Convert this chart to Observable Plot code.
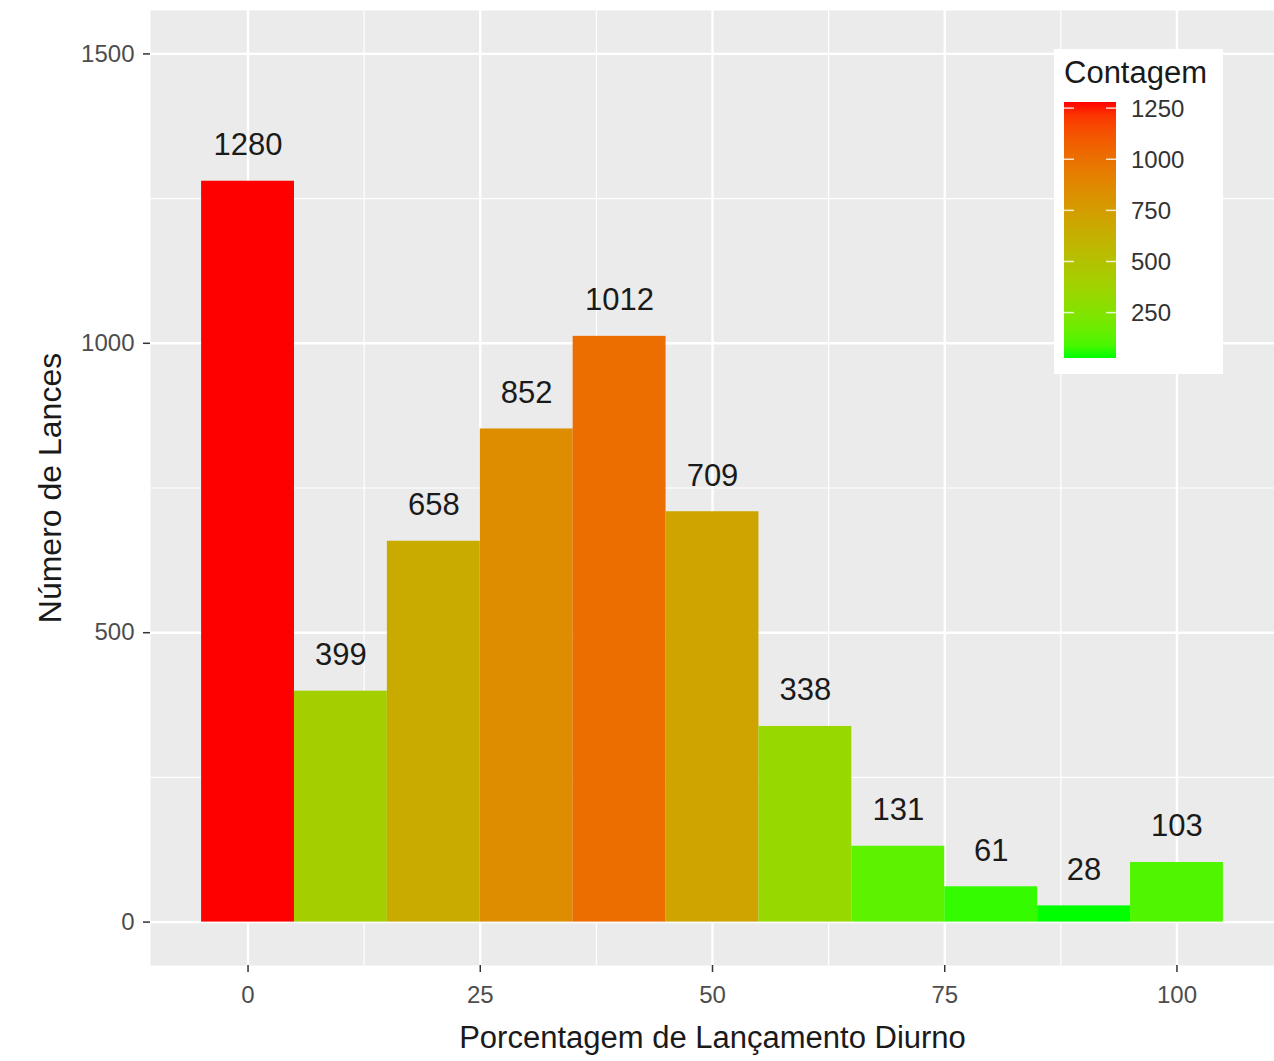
<!DOCTYPE html>
<html>
<head>
<meta charset="utf-8">
<script src="https://cdn.jsdelivr.net/npm/d3@7"></script>
<script src="https://cdn.jsdelivr.net/npm/@observablehq/plot@0.6"></script>
<style>
  body { margin: 0; background: #ffffff; }
  #chart { width: 1274px; height: 1061px; }
</style>
</head>
<body>
<div id="chart"></div>
<script>
// Histogram of casts by daytime-deployment percentage
const binCenters = [0, 10, 20, 30, 40, 50, 60, 70, 80, 90, 100];
const counts = [1280, 399, 658, 852, 1012, 709, 338, 131, 61, 28, 103];
const binWidth = 10;

const xTicks = [0, 25, 50, 75, 100];
const xMinorTicks = [12.5, 37.5, 62.5, 87.5];
const yTicks = [0, 500, 1000, 1500];
const yMinorTicks = [250, 750, 1250];
const legendTicks = [250, 500, 750, 1000, 1250];

const xTitle = "Porcentagem de Lançamento Diurno";
const yTitle = "Número de Lances";
const legendTitle = "Contagem";

const bins = binCenters.map((b, i) => ({ bin: b, count: counts[i] }));
const countExtent = d3.extent(counts);

const font = "'Liberation Sans', Arial, sans-serif";

const plot = Plot.plot({
  width: 1274,
  height: 1061,
  marginLeft: 150,
  marginRight: 0,
  marginTop: 10,
  marginBottom: 96,
  style: { fontFamily: font, background: "#ffffff", overflow: "visible" },
  x: { domain: [-10.5, 110.5], axis: null },
  y: { domain: [-75, 1575], axis: null },
  color: {
    type: "linear",
    domain: countExtent,
    range: ["#00ff00", "#ff0000"],
    interpolate: "lab"
  },
  marks: [
    Plot.frame({ fill: "#EBEBEB", stroke: null }),
    Plot.ruleY(yMinorTicks, { stroke: "#ffffff", strokeWidth: 1.2 }),
    Plot.ruleX(xMinorTicks, { stroke: "#ffffff", strokeWidth: 1.2 }),
    Plot.ruleY(yTicks, { stroke: "#ffffff", strokeWidth: 2.4 }),
    Plot.ruleX(xTicks, { stroke: "#ffffff", strokeWidth: 2.4 }),
    Plot.rectY(bins, {
      x1: d => d.bin - binWidth / 2,
      x2: d => d.bin + binWidth / 2,
      y: "count",
      fill: "count",
      inset: 0
    }),
    Plot.text(bins, {
      x: "bin",
      y: "count",
      text: d => String(d.count),
      dy: -36,
      fontSize: 31,
      fill: "#1a1a1a"
    }),
    Plot.axisY(yTicks, {
      anchor: "left",
      tickSize: 7,
      tickPadding: 9,
      fontSize: 24,
      stroke: "#333333",
      strokeWidth: 1.5,
      fill: "#4D4D4D",
      tickFormat: d => String(d),
      label: null
    }),
    Plot.axisX(xTicks, {
      anchor: "bottom",
      tickSize: 7,
      tickPadding: 13,
      fontSize: 24,
      stroke: "#333333",
      strokeWidth: 1.5,
      fill: "#4D4D4D",
      tickFormat: d => String(d),
      label: null
    }),
    Plot.text([xTitle], {
      frameAnchor: "bottom",
      dy: 73,
      lineAnchor: "middle",
      textAnchor: "middle",
      fontSize: 31,
      fill: "#1a1a1a"
    }),
    Plot.text([yTitle], {
      frameAnchor: "left",
      dx: -100,
      rotate: -90,
      lineAnchor: "middle",
      textAnchor: "middle",
      fontSize: 32,
      fill: "#1a1a1a"
    })
  ]
});

document.getElementById("chart").appendChild(plot);

// Continuous colour legend, drawn inside the panel's upper-right corner
const colorScale = plot.scale("color");
const svg = d3.select(plot);
const legend = svg.append("g")
  .attr("font-family", font)
  .attr("text-anchor", "start");

const box = { x: 1054, y: 49, w: 169, h: 325 };
const bar = { x: 1064, y: 102, w: 52, h: 256 };
const ly = d3.scaleLinear().domain(countExtent).range([bar.y + bar.h, bar.y]);

legend.append("rect")
  .attr("x", box.x).attr("y", box.y).attr("width", box.w).attr("height", box.h)
  .attr("fill", "#ffffff");

legend.append("text")
  .attr("x", box.x + 10).attr("y", 83)
  .attr("text-anchor", "start")
  .attr("font-size", 31).attr("fill", "#1a1a1a")
  .text(legendTitle);

const grad = svg.append("defs").append("linearGradient")
  .attr("id", "countGradient")
  .attr("x1", 0).attr("y1", 1).attr("x2", 0).attr("y2", 0);
d3.range(0, 1.0001, 0.05).forEach(t => {
  const v = countExtent[0] + t * (countExtent[1] - countExtent[0]);
  grad.append("stop").attr("offset", t).attr("stop-color", colorScale.apply(v));
});

legend.append("rect")
  .attr("x", bar.x).attr("y", bar.y).attr("width", bar.w).attr("height", bar.h)
  .attr("fill", "url(#countGradient)");

legendTicks.forEach(t => {
  const y = ly(t);
  legend.append("line")
    .attr("x1", bar.x).attr("x2", bar.x + 10).attr("y1", y).attr("y2", y)
    .attr("stroke", "#ffffff").attr("stroke-opacity", 0.8).attr("stroke-width", 1.5);
  legend.append("line")
    .attr("x1", bar.x + bar.w - 10).attr("x2", bar.x + bar.w).attr("y1", y).attr("y2", y)
    .attr("stroke", "#ffffff").attr("stroke-opacity", 0.8).attr("stroke-width", 1.5);
  legend.append("text")
    .attr("x", 1131).attr("y", y).attr("dy", "0.35em")
    .attr("text-anchor", "start")
    .attr("font-size", 24).attr("fill", "#333333")
    .text(String(t));
});
</script>
</body>
</html>
